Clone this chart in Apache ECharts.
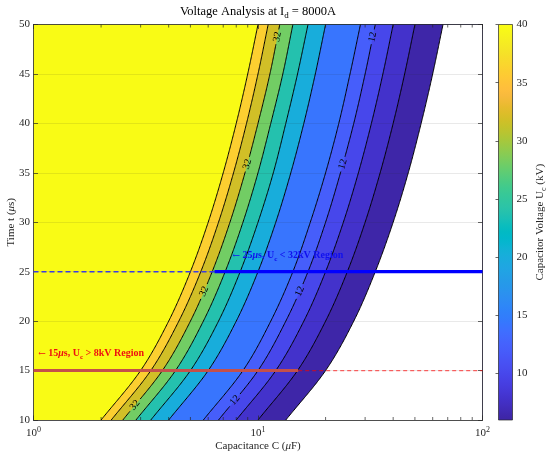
<!DOCTYPE html>
<html><head><meta charset="utf-8">
<script src="https://cdn.jsdelivr.net/npm/echarts@6/dist/echarts.min.js"></script>
<style>html,body{margin:0;padding:0;background:#fff}#c{width:550px;height:460px}</style>
</head><body><div id="c"></div>
<script>
// ---------- data ----------
const timeSamples = [10, 15, 20, 25, 30, 35, 40, 45, 50];          // t (us)
const contourLevels = [40, 36, 32, 28, 24, 20, 14, 12, 10, 8, 6];   // kV
// capacitance (uF) where each contour crosses each time sample
const capAt40 = [2.00, 3.00, 4.00, 5.00, 6.00, 7.00, 8.00, 9.00, 10.0];
const capAt36 = [2.22, 3.33, 4.44, 5.56, 6.67, 7.78, 8.89, 10.0, 11.1];
const capAt32 = [2.50, 3.75, 5.00, 6.25, 7.50, 8.75, 10.0, 11.3, 12.5];
const capAt28 = [2.86, 4.29, 5.71, 7.14, 8.57, 10.0, 11.4, 12.9, 14.3];
const capAt24 = [3.33, 5.00, 6.67, 8.33, 10.0, 11.7, 13.3, 15.0, 16.7];
const capAt20 = [4.00, 6.00, 8.00, 10.0, 12.0, 14.0, 16.0, 18.0, 20.0];
const capAt14 = [5.71, 8.57, 11.4, 14.3, 17.1, 20.0, 22.9, 25.7, 28.6];
const capAt12 = [6.67, 10.0, 13.3, 16.7, 20.0, 23.3, 26.7, 30.0, 33.3];
const capAt10 = [8.00, 12.0, 16.0, 20.0, 24.0, 28.0, 32.0, 36.0, 40.0];
const capAt8  = [10.0, 15.0, 20.0, 25.0, 30.0, 35.0, 40.0, 45.0, 50.0];
const capAt6  = [13.3, 20.0, 26.7, 33.3, 40.0, 46.7, 53.3, 60.0, 66.7];
const labelledLevels = [32, 12];
const labelTimes32 = [11.5, 22.9, 35.8, 48.7];
const labelTimes12 = [12.0, 22.9, 35.8, 48.7];
const xRange = [1, 100];
const tRange = [10, 50];
const xMinorTicks = [2, 3, 4, 5, 6, 7, 8, 9, 20, 30, 40, 50, 60, 70, 80, 90];
const colorRange = [6, 40];
const colorbarTicks = [10, 15, 20, 25, 30, 35, 40];
const refTimes = [25, 15];
const refSplitC = [6.4, 15.1];
const annotC = [7.7, 1.05];
const annotT = [26.6, 16.7];
const annotText = ['{a|\u2190} 25{i|\u03bc}s, U{s|c} < 32kV Region', '{a|\u2190} 15{i|\u03bc}s, U{s|c} > 8kV Region'];
const annotColor = ['#1010ee', '#ee1010'];

const contourCurves = [capAt40, capAt36, capAt32, capAt28, capAt24, capAt20, capAt14, capAt12, capAt10, capAt8, capAt6];
const labelTimesByLevel = {32: labelTimes32, 12: labelTimes12};

// ---------- parula colormap ----------
const PARULA = [[0.2422,0.1504,0.6603],[0.2504,0.1650,0.7076],[0.2578,0.1818,0.7511],[0.2647,0.1978,0.7952],[0.2706,0.2147,0.8364],[0.2751,0.2342,0.8710],[0.2783,0.2559,0.8991],[0.2803,0.2782,0.9221],[0.2813,0.3006,0.9414],[0.2810,0.3228,0.9579],[0.2795,0.3447,0.9717],[0.2760,0.3667,0.9829],[0.2699,0.3892,0.9906],[0.2602,0.4123,0.9952],[0.2440,0.4358,0.9988],[0.2206,0.4603,0.9973],[0.1963,0.4847,0.9892],[0.1834,0.5074,0.9798],[0.1786,0.5289,0.9682],[0.1764,0.5499,0.9520],[0.1687,0.5703,0.9359],[0.1540,0.5902,0.9218],[0.1460,0.6091,0.9079],[0.1380,0.6276,0.8973],[0.1248,0.6459,0.8883],[0.1113,0.6635,0.8763],[0.0952,0.6798,0.8598],[0.0689,0.6948,0.8394],[0.0297,0.7082,0.8163],[0.0036,0.7203,0.7917],[0.0067,0.7312,0.7660],[0.0433,0.7411,0.7394],[0.0964,0.7500,0.7120],[0.1408,0.7584,0.6842],[0.1717,0.7670,0.6554],[0.1938,0.7758,0.6251],[0.2161,0.7843,0.5923],[0.2470,0.7918,0.5567],[0.2906,0.7973,0.5188],[0.3406,0.8008,0.4789],[0.3909,0.8029,0.4354],[0.4456,0.8024,0.3909],[0.5044,0.7993,0.3480],[0.5616,0.7942,0.3045],[0.6174,0.7876,0.2612],[0.6720,0.7793,0.2227],[0.7242,0.7698,0.1910],[0.7738,0.7598,0.1646],[0.8203,0.7498,0.1535],[0.8634,0.7406,0.1596],[0.9035,0.7330,0.1774],[0.9393,0.7288,0.2100],[0.9728,0.7298,0.2394],[0.9956,0.7434,0.2371],[0.9970,0.7659,0.2199],[0.9952,0.7893,0.2028],[0.9892,0.8136,0.1885],[0.9786,0.8386,0.1766],[0.9676,0.8639,0.1643],[0.9610,0.8890,0.1537],[0.9597,0.9135,0.1423],[0.9628,0.9373,0.1265],[0.9691,0.9606,0.1064],[0.9769,0.9839,0.0805]];
function rgb(c){ return 'rgb(' + c.map(v => Math.round(v * 255)).join(',') + ')'; }
function levelColor(v){
  let k = Math.floor((v - colorRange[0]) / (colorRange[1] - colorRange[0]) * PARULA.length);
  k = Math.max(0, Math.min(PARULA.length - 1, k));
  return rgb(PARULA[k]);
}

const FONT = 'Liberation Serif, Times New Roman, serif';
const AX = '#262626';

// smooth pixel path through the sampled contour points (Catmull-Rom)
function curvePixels(api, caps){
  const P = caps.map((c, k) => api.coord([c, timeSamples[k]]));
  const n = P.length, out = [], steps = 40;
  for (let k = 0; k < n - 1; k++) {
    const p1 = P[k], p2 = P[k + 1];
    const p0 = k > 0 ? P[k - 1] : [2 * p1[0] - p2[0], 2 * p1[1] - p2[1]];
    const p3 = k + 2 < n ? P[k + 2] : [2 * p2[0] - p1[0], 2 * p2[1] - p1[1]];
    const c1 = [p1[0] + (p2[0] - p0[0]) / 6, p1[1] + (p2[1] - p0[1]) / 6];
    const c2 = [p2[0] - (p3[0] - p1[0]) / 6, p2[1] - (p3[1] - p1[1]) / 6];
    for (let j = (k === 0 ? 0 : 1); j <= steps; j++) {
      const u = j / steps, a = 1 - u;
      const x = a*a*a*p1[0] + 3*a*a*u*c1[0] + 3*a*u*u*c2[0] + u*u*u*p2[0];
      const y = a*a*a*p1[1] + 3*a*a*u*c1[1] + 3*a*u*u*c2[1] + u*u*u*p2[1];
      out.push({x, y, t: timeSamples[k] + u * (timeSamples[k + 1] - timeSamples[k])});
    }
  }
  let s = 0;
  out.forEach((p, j) => { if (j) s += Math.hypot(p.x - out[j-1].x, p.y - out[j-1].y); p.s = s; });
  return out;
}

function fillRender(params, api){
  const i = params.dataIndex;
  const tr = api.coord([xRange[1], tRange[1]]);
  const br = api.coord([xRange[1], tRange[0]]);
  if (i === 0) {
    const tl = api.coord([xRange[0], tRange[1]]);
    const bl = api.coord([xRange[0], tRange[0]]);
    return {type: 'polygon', shape: {points: [bl, tl, tr, br]}, style: {fill: levelColor(contourLevels[0])}};
  }
  const k = i - 1;
  const pts = curvePixels(api, contourCurves[k]).map(p => [p.x, p.y]);
  pts.push(tr, br);
  const fill = k + 1 < contourLevels.length ? levelColor(contourLevels[k + 1]) : '#ffffff';
  return {type: 'polygon', shape: {points: pts}, style: {fill}};
}

function lineRender(params, api){
  const k = params.dataIndex;
  const L = contourLevels[k];
  const pts = curvePixels(api, contourCurves[k]);
  const times = labelTimesByLevel[L] || [];
  const labels = times.map(t => {
    let j = pts.findIndex(p => p.t >= t); if (j < 0) j = pts.length - 1;
    const p = pts[j];
    let a = j, b = j;
    while (a > 0 && p.s - pts[a].s < 4) a--;
    while (b < pts.length - 1 && pts[b].s - p.s < 4) b++;
    const ang = Math.atan2(-(pts[b].y - pts[a].y), pts[b].x - pts[a].x);
    return {x: p.x, y: p.y, s: p.s, ang};
  });
  const children = [];
  let cur = [];
  const flush = () => { if (cur.length > 1) children.push({type: 'polyline', shape: {points: cur}, style: {stroke: '#000', lineWidth: 1, fill: null}}); cur = []; };
  pts.forEach(p => {
    if (labels.some(l => Math.abs(p.s - l.s) < 7.5)) flush();
    else cur.push([p.x, p.y]);
  });
  flush();
  labels.forEach(l => children.push({
    type: 'text', x: l.x, y: l.y, rotation: l.ang,
    style: {text: String(L), fontSize: 10, fontFamily: FONT, fill: '#000', align: 'center', verticalAlign: 'middle'}
  }));
  return {type: 'group', children};
}

function minorTickRender(params, api){
  const v = api.value(0);
  const b = api.coord([v, tRange[0]]), t = api.coord([v, tRange[1]]);
  return {type: 'group', children: [
    {type: 'line', shape: {x1: b[0], y1: b[1], x2: b[0], y2: b[1] - 3}, style: {stroke: AX, lineWidth: 0.7}},
    {type: 'line', shape: {x1: t[0], y1: t[1], x2: t[0], y2: t[1] + 3}, style: {stroke: AX, lineWidth: 0.7}}
  ]};
}

function colorbarRender(params, api){
  const a = api.coord([0, colorRange[1]]), b = api.coord([1, colorRange[0]]);
  const n = PARULA.length;
  const stops = PARULA.map((c, i) => ({offset: (i + 0.5) / n, color: rgb(c)}));
  return {type: 'rect', shape: {x: a[0], y: a[1], width: b[0] - a[0], height: b[1] - a[1]},
    style: {fill: new echarts.graphic.LinearGradient(0, 1, 0, 0, stops), stroke: AX, lineWidth: 0.7}};
}

function annotRender(params, api){
  const i = params.dataIndex;
  const p = api.coord([api.value(0), api.value(1)]);
  const c = annotColor[i];
  const base = {fontSize: 10, fontFamily: FONT, fontWeight: 'bold', fill: c};
  return {type: 'text', x: p[0], y: p[1], style: Object.assign({}, base, {
    text: annotText[i], align: 'left', verticalAlign: 'middle',
    rich: {
      a: Object.assign({}, base, {fontFamily: 'DejaVu Serif, serif', fontSize: 9, fontWeight: 'normal'}),
      i: Object.assign({}, base, {fontStyle: 'italic'}),
      s: Object.assign({}, base, {fontSize: 7, padding: [6, 0, 0, 0]})
    }
  })};
}

const chart = echarts.init(document.getElementById('c'), null, {renderer: 'canvas'});
const lblStyle = {fontSize: 11, fontFamily: FONT, color: AX};
const option = {
  animation: false,
  backgroundColor: '#fff',
  grid: [
    {left: 33.5, top: 24.5, width: 449, height: 395.5, outerBoundsMode: 'none', containLabel: false},
    {left: 498.5, top: 24.5, width: 14, height: 395.5, outerBoundsMode: 'none', containLabel: false}
  ],
  graphic: [{
    type: 'text', x: 258, y: 12, z: 10,
    style: {text: 'Voltage Analysis at I{s|d} = 8000A', fontSize: 12.5, fontFamily: FONT, fill: '#000',
      align: 'center', verticalAlign: 'middle',
      rich: {s: {fontSize: 9, fontFamily: FONT, fill: '#000', padding: [8, 0, 0, 0]}}}
  }],
  xAxis: [
    {type: 'log', gridIndex: 0, min: xRange[0], max: xRange[1], logBase: 10, z: 5,
     name: 'Capacitance C ({i|\u03bc}F)', nameLocation: 'middle', nameGap: 21, nameMoveOverlap: false,
     nameTextStyle: {fontSize: 11, fontFamily: FONT, color: AX, rich: {i: {fontSize: 11, fontFamily: FONT, color: AX, fontStyle: 'italic'}}},
     axisLine: {lineStyle: {color: AX, width: 0.8}},
     axisTick: {inside: true, length: 4.5, lineStyle: {color: AX, width: 0.7}},
     splitLine: {show: false}, minorTick: {show: false},
     axisLabel: {margin: 6, formatter: v => '{b|10}{s|' + Math.round(Math.log10(v)) + '}',
       rich: {b: {fontSize: 11, fontFamily: FONT, color: AX}, s: {fontSize: 8, fontFamily: FONT, color: AX, padding: [0, 0, 7, 0]}}}},
    {type: 'log', gridIndex: 0, min: xRange[0], max: xRange[1], logBase: 10, position: 'top', z: 5,
     axisLine: {lineStyle: {color: AX, width: 0.8}},
     axisTick: {inside: true, length: 4.5, lineStyle: {color: AX, width: 0.7}},
     axisLabel: {show: false}, splitLine: {show: false}},
    {type: 'value', gridIndex: 1, min: 0, max: 1, show: false}
  ],
  yAxis: [
    {type: 'value', gridIndex: 0, min: tRange[0], max: tRange[1], interval: 5, z: 5,
     name: 'Time t ({i|\u03bc}s)', nameLocation: 'middle', nameGap: 17, nameRotate: 90, nameMoveOverlap: false,
     nameTextStyle: {fontSize: 11, fontFamily: FONT, color: AX, rich: {i: {fontSize: 11, fontFamily: FONT, color: AX, fontStyle: 'italic'}}},
     axisLine: {show: true, lineStyle: {color: AX, width: 0.8}},
     axisTick: {show: true, inside: true, length: 4.5, lineStyle: {color: AX, width: 0.7}},
     axisLabel: Object.assign({margin: 3.5}, lblStyle),
     splitLine: {show: true, lineStyle: {color: 'rgba(38,38,38,0.15)', width: 0.7}}},
    {type: 'value', gridIndex: 0, min: tRange[0], max: tRange[1], interval: 5, position: 'right', z: 5,
     axisLine: {show: true, lineStyle: {color: AX, width: 0.8}},
     axisTick: {show: true, inside: true, length: 4.5, lineStyle: {color: AX, width: 0.7}},
     axisLabel: {show: false}, splitLine: {show: false}},
    {type: 'value', gridIndex: 1, min: colorRange[0], max: colorRange[1], position: 'right', z: 5,
     name: 'Capacitor Voltage U{s|c} (kV)', nameLocation: 'middle', nameGap: 21, nameRotate: 90,
     nameTextStyle: {fontSize: 11, fontFamily: FONT, color: AX, rich: {s: {fontSize: 8, fontFamily: FONT, color: AX, padding: [6, 0, 0, 0]}}},
     axisLine: {show: false},
     axisTick: {show: true, inside: true, length: 3, customValues: colorbarTicks, lineStyle: {color: AX, width: 0.7}},
     axisLabel: Object.assign({margin: 4, customValues: colorbarTicks}, lblStyle),
     splitLine: {show: false}}
  ],
  series: [
    {type: 'custom', name: 'fills', xAxisIndex: 0, yAxisIndex: 0, z: 2, silent: true,
     data: [[xRange[0], tRange[0]]].concat(contourLevels.map(L => [xRange[0], tRange[0]])), renderItem: fillRender},
    {type: 'custom', name: 'contours', xAxisIndex: 0, yAxisIndex: 0, z: 3, silent: true,
     data: contourLevels.map(L => [xRange[0], tRange[0]]), renderItem: lineRender},
    {type: 'custom', name: 'minorTicks', xAxisIndex: 0, yAxisIndex: 0, z: 5, silent: true,
     data: xMinorTicks.map(v => [v, tRange[0]]), renderItem: minorTickRender},
    {type: 'custom', name: 'colorbar', xAxisIndex: 2, yAxisIndex: 2, z: 2, silent: true,
     data: [[0, colorRange[0]]], renderItem: colorbarRender},
    {type: 'line', z: 6, symbol: 'none', silent: true, clip: false,
     data: [[xRange[0], refTimes[0]], [refSplitC[0], refTimes[0]]],
     lineStyle: {color: '#3a3ae6', width: 1.5, type: [5, 3]}},
    {type: 'line', z: 6, symbol: 'none', silent: true, clip: false,
     data: [[refSplitC[0], refTimes[0]], [xRange[1], refTimes[0]]],
     lineStyle: {color: '#0000ff', width: 3.3}},
    {type: 'line', z: 6, symbol: 'none', silent: true, clip: false,
     data: [[refSplitC[1], refTimes[1]], [xRange[1], refTimes[1]]],
     lineStyle: {color: 'rgba(255,0,0,0.6)', width: 1.3, type: [4, 3]}},
    {type: 'line', z: 6, symbol: 'none', silent: true, clip: false,
     data: [[xRange[0], refTimes[1]], [refSplitC[1], refTimes[1]]],
     lineStyle: {color: '#c4504a', width: 3}},
    {type: 'custom', name: 'annotations', xAxisIndex: 0, yAxisIndex: 0, z: 7, silent: true, clip: false,
     data: annotC.map((c, i) => [c, annotT[i]]), renderItem: annotRender}
  ]
};
chart.setOption(option);
</script></body></html>
